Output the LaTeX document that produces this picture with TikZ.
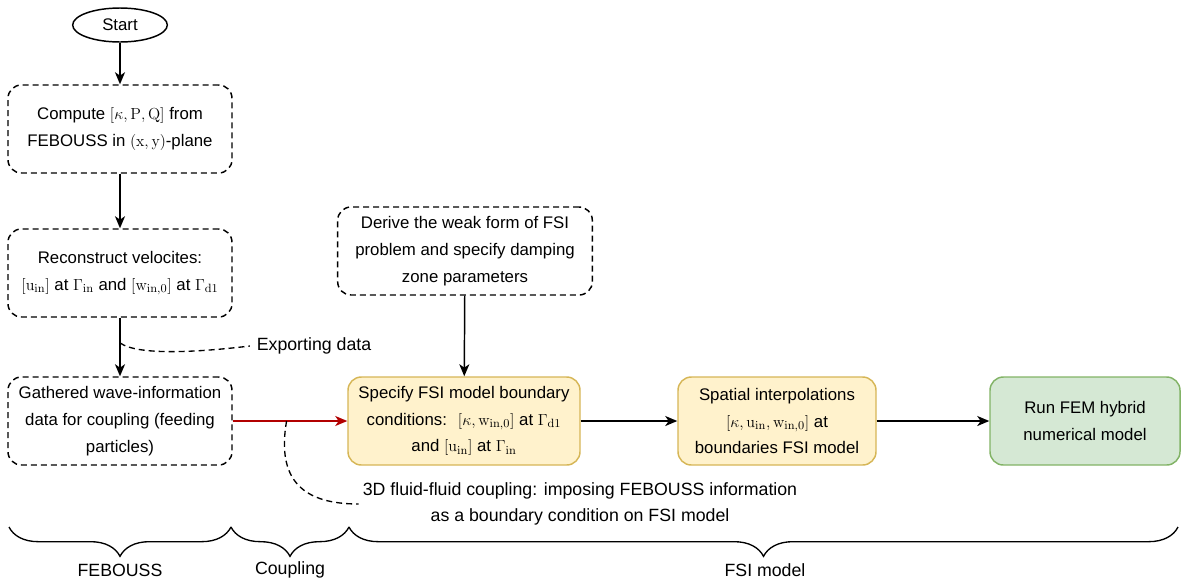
\documentclass[tikz,border=0pt]{standalone}
\usepackage[no-math]{fontspec}
\setmainfont{Liberation Sans}
\usetikzlibrary{arrows.meta,decorations.pathreplacing,shapes.geometric}

\definecolor{notefill}{HTML}{FFF2CC}
\definecolor{notedraw}{HTML}{D6B656}
\definecolor{runfill}{HTML}{D5E8D4}
\definecolor{rundraw}{HTML}{82B366}
\definecolor{linkred}{HTML}{B20000}

\tikzset{
  every node/.style={font=\fontsize{12.6}{20}\selectfont, align=center, inner sep=1pt},
  label text/.style={font=\fontsize{13.3}{19}\selectfont},
  flow/.style={-{Stealth[length=9pt,width=7.5pt,inset=2.5pt]}, line width=1.1pt},
  remark/.style={line width=1pt, dash pattern=on 4.5pt off 3pt},
  task/.style={draw, line width=1.1pt, dash pattern=on 4.5pt off 3pt, rounded corners=10pt,
    minimum width=168pt, minimum height=66pt},
  fsitask/.style={draw=notedraw, fill=notefill, line width=1.1pt, rounded corners=10pt,
    minimum height=66pt},
  brace/.style={decorate, decoration={brace, mirror, amplitude=22pt}, line width=1pt},
}

\begin{document}
\begin{tikzpicture}[x=0.75pt, y=-0.75pt]
  \useasboundingbox (0,0) rectangle (1184,583);

  % FEBOUSS side
  \node[draw, ellipse, line width=1.1pt, minimum width=71pt, minimum height=25.5pt] (start) at (120,25) {Start};
  \node[task] (compute) at (120,129)
    {Compute $[\kappa,\mathrm{P},\mathrm{Q}]$ from\\FEBOUSS in $(\mathrm{x},\mathrm{y})$-plane};
  \node[task] (recon) at (120,273)
    {Reconstruct velocites:\\$[\mathrm{u_{in}}]$ at $\Gamma_{\mathrm{in}}$ and $[\mathrm{w_{in,0}}]$ at $\Gamma_{\mathrm{d1}}$};
  \node[task] (gather) at (120,421)
    {Gathered wave-information\\data for coupling (feeding\\particles)};

  % FSI side
  \node[task, minimum width=191pt] (weak) at (465,251)
    {Derive the weak form of FSI\\problem and specify damping\\zone parameters};
  \node[fsitask, minimum width=174pt] (bc) at (464,421)
    {Specify FSI model boundary\\conditions:~ $[\kappa,\mathrm{w_{in,0}}]$ at $\Gamma_{\mathrm{d1}}$\\and $[\mathrm{u_{in}}]$ at $\Gamma_{\mathrm{in}}$};
  \node[fsitask, minimum width=148.5pt] (interp) at (777,421)
    {Spatial interpolations\\$[\kappa,\mathrm{u_{in}},\mathrm{w_{in,0}}]$ at\\boundaries FSI model};
  \node[fsitask, draw=rundraw, fill=runfill, minimum width=142.5pt] (run) at (1085,421)
    {Run FEM hybrid\\numerical model};

  % annotations
  \node[label text, inner sep=5pt] (export) at (314,346) {Exporting data};
  \node[label text, inner sep=3pt] (coupling) at (580,504)
    {3D fluid-fluid coupling: imposing FEBOUSS information\\as a boundary condition on FSI model};

  \draw[flow] (start) -- (compute);
  \draw[flow] (compute) -- (recon);
  \draw[flow] (recon) -- coordinate[pos=0.43] (exptap) (gather);
  \draw[flow] (weak) -- (bc);
  \draw[flow, draw=linkred, fill=linkred] (gather) -- coordinate[pos=0.47] (cpltap) (bc);
  \draw[flow] (bc) -- (interp);
  \draw[flow] (interp) -- (run);

  \draw[remark] (exptap) .. controls (138,356) and (200,352) .. (export.west);
  \draw[remark] (cpltap) .. controls (276,482) and (305,504) .. (coupling.west);

  % stages
  \draw[brace] (9,527) -- (231,527);
  \draw[brace] (231,527) -- (349,527);
  \draw[brace] (349,527) -- (1178,527);
  \node[label text] (febouss) at (120,570) {FEBOUSS};
  \node[label text] (cpl) at (290,570) {Coupling};
  \node[label text] (fsi) at (765,570) {FSI model};
\end{tikzpicture}
\end{document}
